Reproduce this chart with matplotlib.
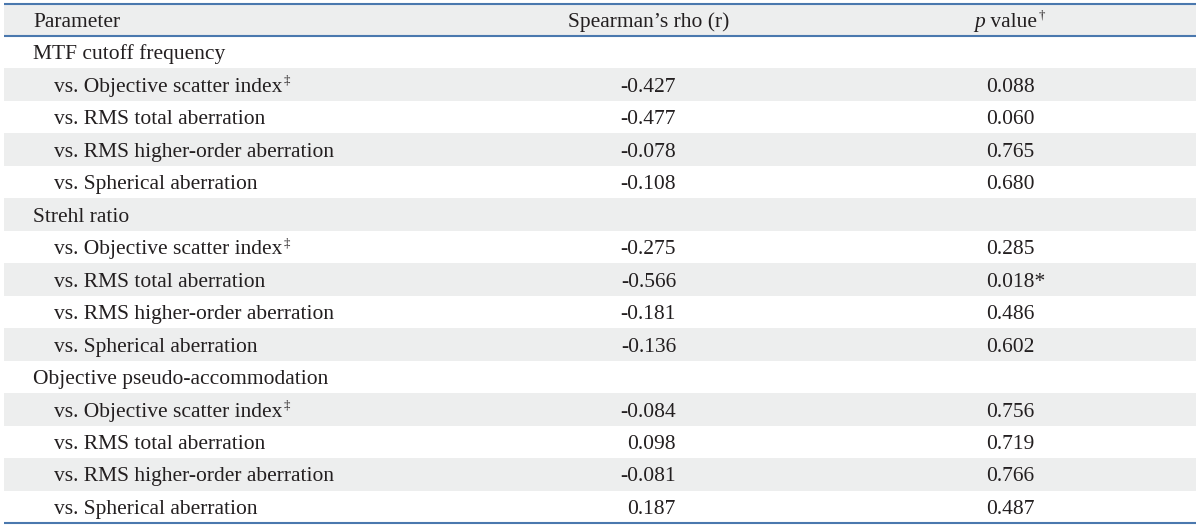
import matplotlib
matplotlib.use("Agg")
import matplotlib.pyplot as plt
from matplotlib.patches import Rectangle

# ---- data ----
groups = ["MTF cutoff frequency", "Strehl ratio", "Objective pseudo-accommodation"]
comparisons = ["vs. Objective scatter index", "vs. RMS total aberration",
               "vs. RMS higher-order aberration", "vs. Spherical aberration"]
comparison_marks = ["\u2021", "", "", ""]
rho_values = [["-0.427", "-0.477", "-0.078", "-0.108"],
              ["-0.275", "-0.566", "-0.181", "-0.136"],
              ["-0.084", "0.098", "-0.081", "0.187"]]
p_values = [["0.088", "0.060", "0.765", "0.680"],
            ["0.285", "0.018*", "0.486", "0.602"],
            ["0.756", "0.719", "0.766", "0.487"]]
header_labels = ["Parameter", "Spearman\u2019s rho (r)", "value"]

# ---- style ----
W, H = 1200, 529
FONT = "Liberation Serif"
FS = 15.5
TXT = "#231f20"
GREY = "#edeeee"
LINE = "#4a78ae"
x0, x1 = 4, 1196
top, bottom = 3.5, 523
nrows = 1 + len(groups) * (1 + len(comparisons))
rh = (bottom - top) / nrows
x_param = 33
x_indent = 54
x_rho_right = 676
x_rho_head = 649
x_p_left = 986
x_p_head = 1006
base_off = 7.2

fig = plt.figure(figsize=(W / 100, H / 100), dpi=100)
ax = fig.add_axes([0, 0, 1, 1])
ax.set_xlim(0, W)
ax.set_ylim(H, 0)
ax.axis("off")

def row_top(i):
    return top + i * rh

def base(i):
    return row_top(i) + rh / 2 + base_off

# shading
ax.add_patch(Rectangle((x0, row_top(0)), x1 - x0, rh, facecolor=GREY, edgecolor="none"))
for i in range(1, nrows):
    if (i - 1) % 2 == 1:
        ax.add_patch(Rectangle((x0, row_top(i)), x1 - x0, rh, facecolor=GREY, edgecolor="none"))

# lines
for y in (row_top(0), row_top(1), bottom):
    ax.plot([x0, x1], [y, y], color=LINE, lw=1.5, solid_capstyle="butt")

fig.canvas.draw()
renderer = fig.canvas.get_renderer()

def text_with_sup(x, y, s, sup, ha="left"):
    t = ax.text(x, y, s, fontsize=FS, family=FONT, color=TXT, ha=ha, va="baseline")
    if sup:
        bb = t.get_window_extent(renderer=renderer)
        xr = bb.x1 + 1.5
        ax.text(xr, y - 8, sup, fontsize=FS * 0.6, family=FONT, color=TXT,
                ha="left", va="baseline")
    return t

# header
ax.text(x_param, base(0), header_labels[0], fontsize=FS, family=FONT, color=TXT, ha="left", va="baseline")
ax.text(x_rho_head, base(0), header_labels[1], fontsize=FS, family=FONT, color=TXT, ha="center", va="baseline")
# "p value†" centered around x_p_head
tp = ax.text(0, 0, "p", fontsize=FS, family=FONT, style="italic", color=TXT)
tv = ax.text(0, 0, " " + header_labels[2], fontsize=FS, family=FONT, color=TXT)
wp = tp.get_window_extent(renderer=renderer).width
wv = tv.get_window_extent(renderer=renderer).width
tp.remove(); tv.remove()
start = x_p_head - (wp + wv) / 2
ax.text(start, base(0), "p", fontsize=FS, family=FONT, style="italic", color=TXT, ha="left", va="baseline")
text_with_sup(start + wp, base(0), " " + header_labels[2], "\u2020")

# body
r = 1
for g, grp in enumerate(groups):
    ax.text(x_param, base(r), grp, fontsize=FS, family=FONT, color=TXT, ha="left", va="baseline")
    r += 1
    for c, comp in enumerate(comparisons):
        text_with_sup(x_indent, base(r), comp, comparison_marks[c])
        ax.text(x_rho_right, base(r), rho_values[g][c], fontsize=FS, family=FONT, color=TXT,
                ha="right", va="baseline")
        ax.text(x_p_left, base(r), p_values[g][c], fontsize=FS, family=FONT, color=TXT,
                ha="left", va="baseline")
        r += 1

fig.savefig("out.png", dpi=100)
